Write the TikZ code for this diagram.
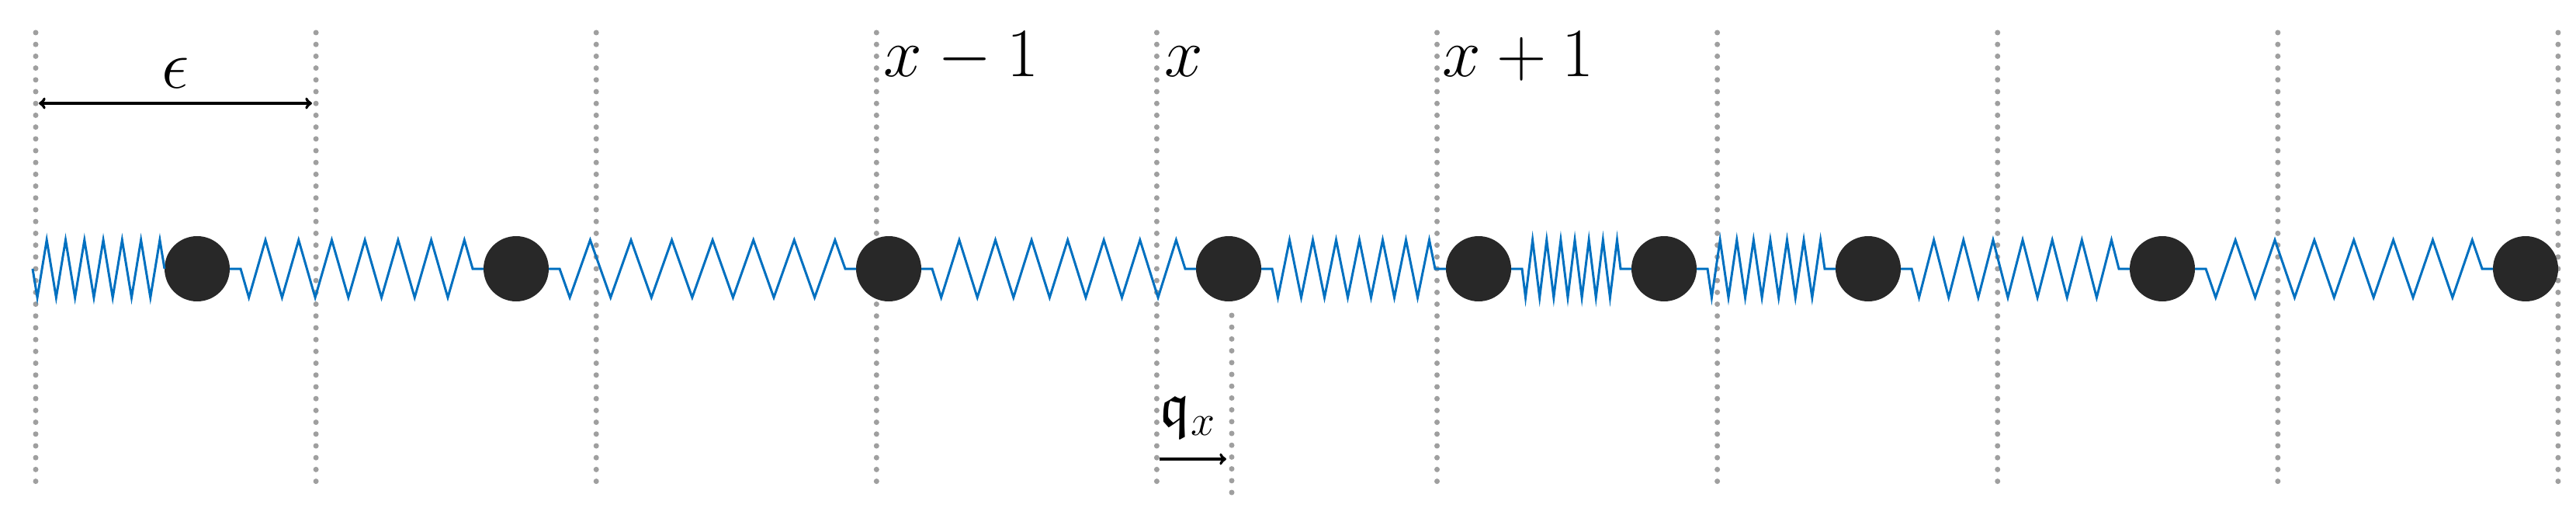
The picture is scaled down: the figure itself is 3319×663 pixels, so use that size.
\documentclass[tikz,border=0pt]{standalone}
\usepackage{amssymb}
\begin{document}
\begin{tikzpicture}[x=1pt,y=-1pt,
  grid/.style={draw=gray!75,line width=7pt,line cap=round,dash pattern=on 0pt off 15.2pt},
  spring/.style={draw={rgb,255:red,0;green,112;blue,192},line width=3pt,line join=miter},
  ball/.style={circle,fill={rgb,255:red,40;green,40;blue,40},minimum size=84pt,inner sep=0pt},
  lab/.style={font=\huge,scale=4.3,inner sep=0pt},
  arr/.style={line width=4pt,<->,>=to}]
\useasboundingbox (0,0) rectangle (3319,663);
\foreach \i in {0,...,9}{\draw[grid] ({46+361.1*\i},42) -- ({46+361.1*\i},634);}
\draw[grid] (1587,406) -- (1587,634);
% balls
\foreach \n/\x in {1/254,2/665,3/1145,4/1583,5/1905,6/2144,7/2407,8/2786,9/3254}{
  \node[ball] (b\n) at (\x,346) {};}
% springs
\foreach \s/\e/\lead in {42/212/0, 296/623/14, 707/1103/14, 1187/1541/14, 1625/1863/14, 1947/2102/14, 2186/2365/14, 2449/2744/14, 2828/3212/14}{
  \pgfmathsetmacro\a{\s+\lead}\pgfmathsetmacro\b{\e-\lead}
  \pgfmathsetmacro\L{\b-\a}
  \draw[spring] (\s,346) -- (\a,346)
    \foreach \k in {1,...,14}{ -- ({\a+(\k-0.5)*\L/14},{346+37*(mod(\k,2)==1?1:-1)}) }
    -- (\b,346) -- (\e,346);
}
% labels
\node[lab,anchor=base west] (lm) at (1138,99) {$x-1$};
\node[lab,anchor=base west] (l0) at (1500,99) {$x$};
\node[lab,anchor=base west] (lp) at (1858,99) {$x+1$};
\node[lab,anchor=base] (le) at (226,114) {$\epsilon$};
\coordinate (ea) at (50,133); \coordinate (eb) at (402,133);
\draw[arr] (ea) -- (eb);
\node[lab,anchor=base west,scale=0.9] (lq) at (1494,548) {$\mathfrak{q}_x$};
\coordinate (qa) at (1494,591); \coordinate (qb) at (1580,591);
\draw[line width=4pt,->,>=to] (qa) -- (qb);
\end{tikzpicture}
\end{document}
